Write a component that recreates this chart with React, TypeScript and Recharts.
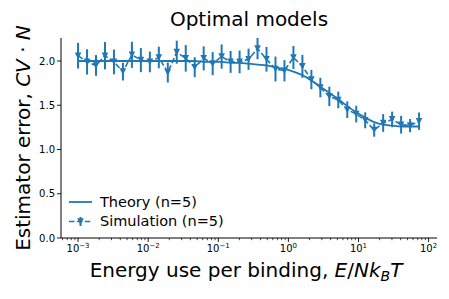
import React from "react";
import { ComposedChart, Line, XAxis, YAxis, ErrorBar } from "recharts";

const BLUE = "#1f77b4";
const FONT = "DejaVu Sans";

// energy use per binding (E / N k_B T), log spaced
const energy = [
  0.001, 0.001343, 0.001803, 0.002421, 0.003251, 0.004365, 0.005861, 0.00787, 0.01057, 0.01419,
  0.01905, 0.02559, 0.03436, 0.04613, 0.06194, 0.08318, 0.1117, 0.15, 0.2014, 0.2704,
  0.3631, 0.4875, 0.6546, 0.879, 1.18, 1.585, 2.128, 2.858, 3.837, 5.152,
  6.918, 9.29, 12.47, 16.75, 22.49, 30.2, 40.55, 54.45, 73.11,
];
const simulation = [
  2.06, 1.99, 1.95, 2.06, 1.99, 1.88, 2.07, 2.01, 1.99, 2.04,
  1.87, 2.1, 2.03, 1.93, 2.03, 1.97, 2.05, 1.99, 1.99, 2.02,
  2.14, 2.02, 1.91, 1.89, 2.04, 1.94, 1.79, 1.7, 1.6, 1.56,
  1.45, 1.4, 1.33, 1.22, 1.3, 1.34, 1.28, 1.27, 1.32,
];
const simError = [
  0.145, 0.143, 0.117, 0.154, 0.14, 0.1, 0.147, 0.136, 0.117, 0.122,
  0.113, 0.13, 0.15, 0.113, 0.136, 0.13, 0.137, 0.124, 0.128, 0.12,
  0.12, 0.14, 0.14, 0.12, 0.13, 0.13, 0.11, 0.11, 0.11, 0.094,
  0.094, 0.094, 0.09, 0.075, 0.1, 0.088, 0.1, 0.075, 0.098,
];
const theory = [
  2.0, 2.0, 2.0, 2.0, 2.0, 2.0, 2.0, 2.0, 2.0, 2.0,
  2.0, 2.0, 2.0, 2.0, 1.99, 1.99, 1.99, 1.98, 1.98, 1.97,
  1.96, 1.95, 1.93, 1.91, 1.88, 1.84, 1.78, 1.71, 1.64, 1.57,
  1.49, 1.42, 1.36, 1.31, 1.28, 1.27, 1.26, 1.26, 1.26,
];

const xMajorTicks = [0.001, 0.01, 0.1, 1, 10, 100];
const xMinorTicks = [
  0.0006, 0.0007, 0.0008, 0.0009,
  0.002, 0.003, 0.004, 0.005, 0.006, 0.007, 0.008, 0.009,
  0.02, 0.03, 0.04, 0.05, 0.06, 0.07, 0.08, 0.09,
  0.2, 0.3, 0.4, 0.5, 0.6, 0.7, 0.8, 0.9,
  2, 3, 4, 5, 6, 7, 8, 9,
  20, 30, 40, 50, 60, 70, 80, 90,
];
const yTicks = [0, 0.5, 1, 1.5, 2];

const data = energy.map((e, i) => ({
  energy: e,
  sim: simulation[i],
  err: simError[i],
  theory: theory[i],
}));

function XTick({ x, y, payload }: any) {
  const v = payload.value;
  if (!xMajorTicks.includes(v)) {
    return <line x1={x} x2={x} y1={y} y2={y + 2.2} stroke="#000" strokeWidth={0.7} />;
  }
  const exp = Math.round(Math.log10(v));
  return (
    <g>
      <line x1={x} x2={x} y1={y} y2={y + 4} stroke="#000" strokeWidth={0.9} />
      <text x={x} y={y + 14} textAnchor="middle" fontSize={10} fontFamily={FONT} fill="#000">
        10
        <tspan dy={-4} fontSize={7}>
          {exp < 0 ? "\u2212" + -exp : String(exp)}
        </tspan>
      </text>
    </g>
  );
}

function TriDot({ cx, cy }: any) {
  if (cx == null || cy == null) return null;
  const r = 3.3;
  return <path d={`M${cx - r},${cy - r}L${cx + r},${cy - r}L${cx},${cy + r}Z`} fill={BLUE} />;
}

function YLabel() {
  return (
    <text x={30} y={138} transform="rotate(-90, 30, 138)" textAnchor="middle" fontSize={20} fontFamily={FONT} fill="#000">
      Estimator error, <tspan fontStyle="italic">CV</tspan> · <tspan fontStyle="italic">N</tspan>
    </text>
  );
}

function XLabel() {
  return (
    <text x={246} y={277} textAnchor="middle" fontSize={20} fontFamily={FONT} fill="#000">
      Energy use per binding, <tspan fontStyle="italic">E</tspan>/<tspan fontStyle="italic">Nk</tspan>
      <tspan fontStyle="italic" fontSize={14} dy={4}>B</tspan>
      <tspan fontStyle="italic" dy={-4}>T</tspan>
    </text>
  );
}

export default function App() {
  return (
    <div style={{ position: "absolute", left: 0, top: 0, width: 449, height: 299, background: "#fff", fontFamily: FONT }}>
      <ComposedChart width={449} height={299} data={data} margin={{ top: 38, right: 12, bottom: 0, left: 0 }}>
        <XAxis
          dataKey="energy"
          type="number"
          scale="log"
          domain={[0.000571, 131.8]}
          allowDataOverflow
          ticks={[...xMajorTicks, ...xMinorTicks]}
          interval={0}
          tick={<XTick />}
          tickLine={false}
          tickSize={0}
          tickMargin={0}
          height={61}
          axisLine={{ stroke: "#000", strokeWidth: 1 }}
          label={<XLabel />}
        />
        <YAxis
          type="number"
          domain={[0, 2.26]}
          allowDataOverflow
          ticks={yTicks}
          tickFormatter={(v: number) => v.toFixed(1)}
          width={61}
          tickSize={4}
          tick={{ fontSize: 10, fill: "#000", fontFamily: FONT }}
          tickLine={{ stroke: "#000", strokeWidth: 0.9 }}
          axisLine={{ stroke: "#000", strokeWidth: 1 }}
          label={<YLabel />}
        />
        <Line
          dataKey="theory"
          type="monotone"
          stroke={BLUE}
          strokeWidth={1.8}
          dot={false}
          isAnimationActive={false}
        />
        <Line
          dataKey="sim"
          type="linear"
          stroke={BLUE}
          strokeWidth={1.6}
          strokeDasharray="5.5 2.4"
          dot={<TriDot />}
          isAnimationActive={false}
        >
          <ErrorBar dataKey="err" direction="y" width={0} stroke={BLUE} strokeWidth={2} isAnimationActive={false} />
        </Line>
      </ComposedChart>
      <svg width={449} height={299} style={{ position: "absolute", left: 0, top: 0, pointerEvents: "none" }}>
        <text x={249} y={26} textAnchor="middle" fontSize={20} fontFamily={FONT} fill="#000">
          Optimal models
        </text>
        <line x1={69} x2={92} y1={202} y2={202} stroke={BLUE} strokeWidth={1.8} />
        <text x={100} y={207} fontSize={14.5} fontFamily={FONT} fill="#000">
          Theory (n=5)
        </text>
        <line x1={69} x2={92} y1={221.5} y2={221.5} stroke={BLUE} strokeWidth={1.6} strokeDasharray="5.5 2.4" />
        <line x1={80.5} x2={80.5} y1={217} y2={226} stroke={BLUE} strokeWidth={2} />
        <path d="M77.2,218.2L83.8,218.2L80.5,224.8Z" fill={BLUE} />
        <text x={100} y={226} fontSize={14.5} fontFamily={FONT} fill="#000">
          Simulation (n=5)
        </text>
      </svg>
    </div>
  );
}
